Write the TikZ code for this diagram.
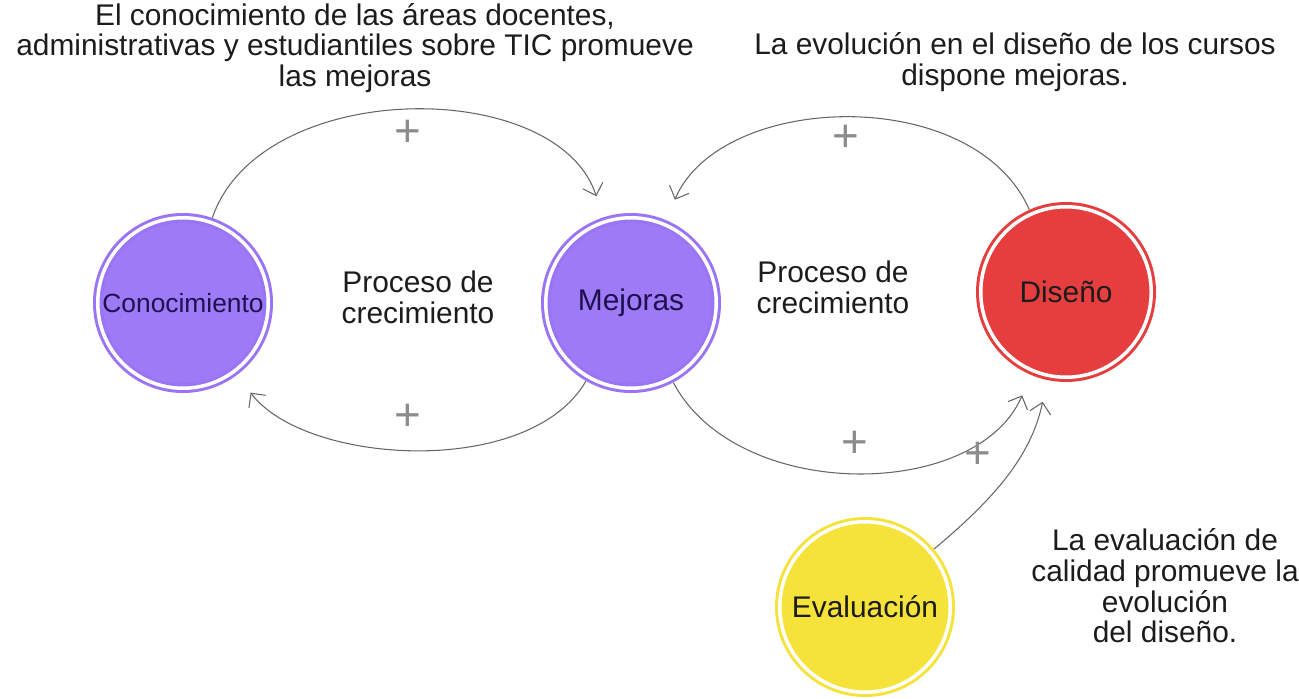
\documentclass[tikz,border=0pt]{standalone}
\usepackage{fontspec}
\setmainfont{Liberation Sans}
\usetikzlibrary{arrows.meta}
\definecolor{lila}{HTML}{9F7AF6}
\definecolor{lilaborde}{HTML}{9A74F3}
\definecolor{rojo}{HTML}{E63E3E}
\definecolor{amarillo}{HTML}{F5E33B}
\definecolor{gris}{HTML}{666666}
\definecolor{grismas}{HTML}{8C8C8C}
\definecolor{tinta}{HTML}{1C1C1C}
\definecolor{tintalila}{HTML}{1F1050}

\begin{document}
\begin{tikzpicture}[
    factor/.style={circle,minimum size=3.41cm,inner sep=0pt,outer sep=0pt,line width=0.06cm,double=white,double distance=0.07cm,font=\fontsize{17}{17}\selectfont},
    enlace/.style={-{Straight Barb[length=6pt,width=12pt]},draw=gris,line width=0.6pt,shorten <=0.1cm,shorten >=0.54cm},
    mas/.style={text=grismas,font=\fontsize{26}{26}\selectfont,inner sep=0pt},
    nota/.style={text=tinta,align=center,font=\fontsize{17}{17.5}\selectfont}
]
    \useasboundingbox (0,0) rectangle (25.98,13.96);
    \node[factor,draw=lilaborde,fill=lila,text=tintalila] (con) at (3.66,7.90) {\fontsize{15}{15}\selectfont Conocimiento};
    \node[factor,draw=lilaborde,fill=lila,text=tintalila] (mej) at (12.62,7.90) {Mejoras};
    \node[factor,draw=rojo,fill=rojo,text=tinta] (dis) at (21.32,8.12) {Diseño};
    \node[factor,draw=amarillo,fill=amarillo,text=tinta] (eva) at (17.30,1.82) {Evaluación};

    \node[nota] (titulo1) at (7.10,13.00) {El conocimiento de las áreas docentes,\\administrativas y estudiantiles sobre TIC promueve\\las mejoras};
    \node[nota] (titulo2) at (20.30,12.72) {La evolución en el diseño de los cursos\\dispone mejoras.};
    \node[nota] (proceso1) at (8.36,8.02) {Proceso de\\crecimiento};
    \node[nota] (proceso2) at (16.66,8.22) {Proceso de\\crecimiento};
    \node[nota] (nota1) at (23.30,2.24) {La evaluación de\\calidad promueve la\\evolución\\del diseño.};

    \draw[enlace] (con) to[out=71,in=108] (mej);
    \draw[enlace] (dis) to[out=114,in=67] (mej);
    \draw[enlace,looseness=0.85] (mej) to[out=240,in=307] (con);
    \draw[enlace] (mej) to[out=298,in=247] (dis);
    \draw[enlace] (eva) to[out=40,in=258] (dis);

    \node[mas] (mas1) at (8.16,11.30) {+};
    \node[mas] (mas2) at (16.92,11.20) {+};
    \node[mas] (mas3) at (8.16,5.62) {+};
    \node[mas] (mas4) at (17.10,5.08) {+};
    \node[mas] (mas5) at (19.56,4.86) {+};
\end{tikzpicture}
\end{document}
